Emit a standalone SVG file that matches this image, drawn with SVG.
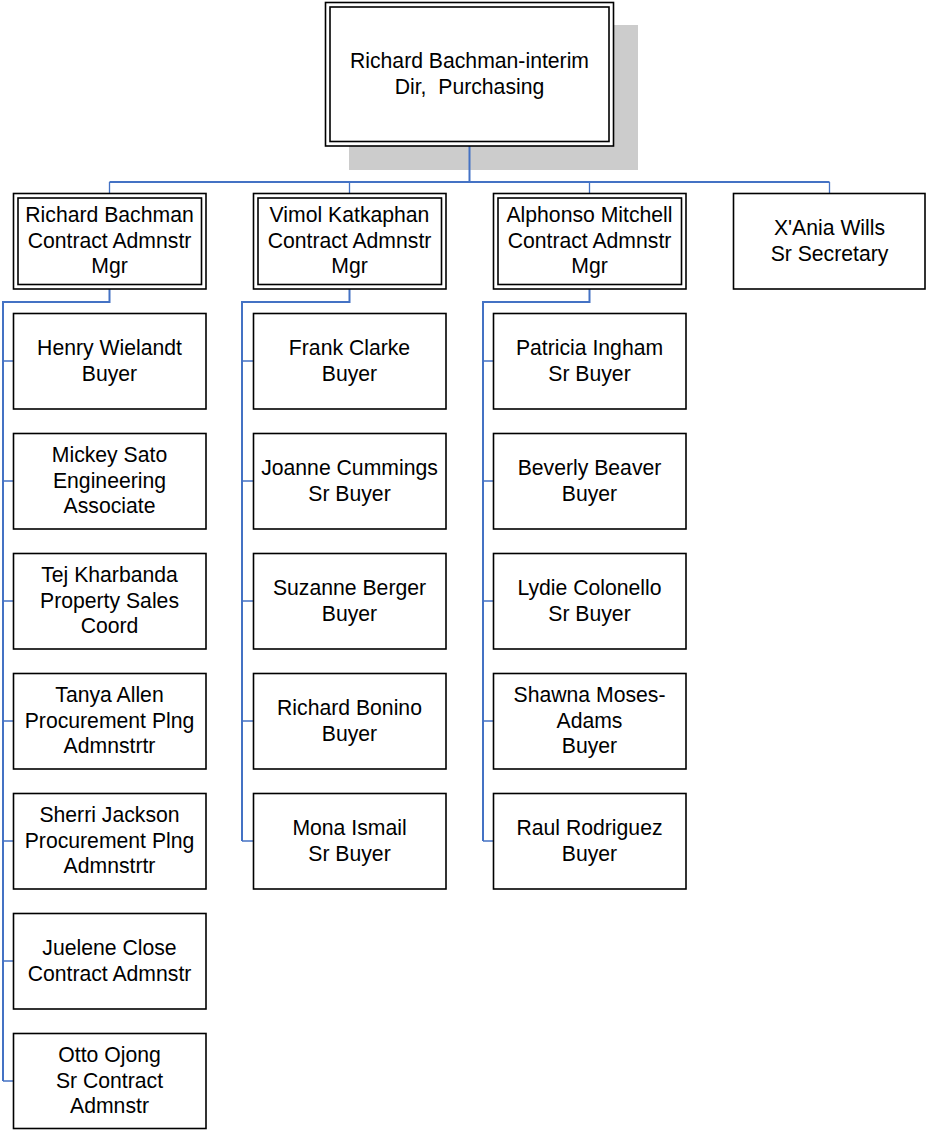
<svg xmlns="http://www.w3.org/2000/svg" width="926" height="1130" viewBox="0 0 926 1130">
<style>
.box{fill:#fff;stroke:#000;stroke-width:1.6}
.in{fill:none;stroke:#000;stroke-width:1.6}
.t{font-family:"Liberation Sans",Arial,sans-serif;font-size:21.2px;fill:#000;text-anchor:middle}
.c{fill:none;stroke:#4472C4;stroke-width:2}
.b{fill:none;stroke:#4472C4;stroke-width:1.3}
</style>
<rect x="349" y="25" width="289" height="145" fill="#CCCCCC"/>
<g id="connectors">
<path class="c" d="M469.5 146V182"/>
<path class="c" d="M109.5 182H829.5"/>
<path class="b" d="M109.5 182V193M349.5 182V193M589.5 182V193M829.5 182V193"/>
<path class="c" d="M109.5 289V302H3V1081M349.5 289V302H242V841M589.5 289V302H483V841"/>
<path class="b" d="M3 361H13M3 481H13M3 601H13M3 721H13M3 841H13M3 961H13M3 1081H13"/>
<path class="b" d="M242 361H253M242 481H253M242 601H253M242 721H253M242 841H253"/>
<path class="b" d="M483 361H493M483 481H493M483 601H493M483 721H493M483 841H493"/>
</g>
<g id="director">
<rect class="box" x="325.5" y="2.5" width="288" height="143.5"/>
<rect class="in" x="330" y="7" width="279" height="134.5"/>
<text class="t" x="469.5" y="68">Richard Bachman-interim</text>
<text class="t" x="469.5" y="94" xml:space="preserve">Dir,  Purchasing</text>
</g>
<g id="mgr1">
<rect class="box" x="13.5" y="193.5" width="192.5" height="95.5"/>
<rect class="in" x="18" y="198" width="183.5" height="86.5"/>
<text class="t" x="109.5" y="222">Richard Bachman</text>
<text class="t" x="109.5" y="248">Contract Admnstr</text>
<text class="t" x="109.5" y="273">Mgr</text>
</g>
<g id="mgr2">
<rect class="box" x="253.5" y="193.5" width="192.5" height="95.5"/>
<rect class="in" x="258" y="198" width="183.5" height="86.5"/>
<text class="t" x="349.5" y="222">Vimol Katkaphan</text>
<text class="t" x="349.5" y="248">Contract Admnstr</text>
<text class="t" x="349.5" y="273">Mgr</text>
</g>
<g id="mgr3">
<rect class="box" x="493.5" y="193.5" width="192.5" height="95.5"/>
<rect class="in" x="498" y="198" width="183.5" height="86.5"/>
<text class="t" x="589.5" y="222">Alphonso Mitchell</text>
<text class="t" x="589.5" y="248">Contract Admnstr</text>
<text class="t" x="589.5" y="273">Mgr</text>
</g>
<g id="secretary">
<rect class="box" x="733.5" y="193.5" width="191.5" height="95.5"/>
<text class="t" x="829.5" y="235">X'Ania Wills</text>
<text class="t" x="829.5" y="261">Sr Secretary</text>
</g>
<g id="henry"><rect class="box" x="13.5" y="313.5" width="192.5" height="95.5"/>
<text class="t" x="109.5" y="355">Henry Wielandt</text><text class="t" x="109.5" y="381">Buyer</text></g>
<g id="mickey"><rect class="box" x="13.5" y="433.5" width="192.5" height="95.5"/>
<text class="t" x="109.5" y="462">Mickey Sato</text><text class="t" x="109.5" y="488">Engineering</text><text class="t" x="109.5" y="513">Associate</text></g>
<g id="tej"><rect class="box" x="13.5" y="553.5" width="192.5" height="95.5"/>
<text class="t" x="109.5" y="582">Tej Kharbanda</text><text class="t" x="109.5" y="608">Property Sales</text><text class="t" x="109.5" y="633">Coord</text></g>
<g id="tanya"><rect class="box" x="13.5" y="673.5" width="192.5" height="95.5"/>
<text class="t" x="109.5" y="702">Tanya Allen</text><text class="t" x="109.5" y="728">Procurement Plng</text><text class="t" x="109.5" y="753">Admnstrtr</text></g>
<g id="sherri"><rect class="box" x="13.5" y="793.5" width="192.5" height="95.5"/>
<text class="t" x="109.5" y="822">Sherri Jackson</text><text class="t" x="109.5" y="848">Procurement Plng</text><text class="t" x="109.5" y="873">Admnstrtr</text></g>
<g id="juelene"><rect class="box" x="13.5" y="913.5" width="192.5" height="95.5"/>
<text class="t" x="109.5" y="955">Juelene Close</text><text class="t" x="109.5" y="981">Contract Admnstr</text></g>
<g id="otto"><rect class="box" x="13.5" y="1033.5" width="192.5" height="95"/>
<text class="t" x="109.5" y="1062">Otto Ojong</text><text class="t" x="109.5" y="1088">Sr Contract</text><text class="t" x="109.5" y="1113">Admnstr</text></g>
<g id="frank"><rect class="box" x="253.5" y="313.5" width="192.5" height="95.5"/>
<text class="t" x="349.5" y="355">Frank Clarke</text><text class="t" x="349.5" y="381">Buyer</text></g>
<g id="joanne"><rect class="box" x="253.5" y="433.5" width="192.5" height="95.5"/>
<text class="t" x="349.5" y="475">Joanne Cummings</text><text class="t" x="349.5" y="501">Sr Buyer</text></g>
<g id="suzanne"><rect class="box" x="253.5" y="553.5" width="192.5" height="95.5"/>
<text class="t" x="349.5" y="595">Suzanne Berger</text><text class="t" x="349.5" y="621">Buyer</text></g>
<g id="richardb"><rect class="box" x="253.5" y="673.5" width="192.5" height="95.5"/>
<text class="t" x="349.5" y="715">Richard Bonino</text><text class="t" x="349.5" y="741">Buyer</text></g>
<g id="mona"><rect class="box" x="253.5" y="793.5" width="192.5" height="95.5"/>
<text class="t" x="349.5" y="835">Mona Ismail</text><text class="t" x="349.5" y="861">Sr Buyer</text></g>
<g id="patricia"><rect class="box" x="493.5" y="313.5" width="192.5" height="95.5"/>
<text class="t" x="589.5" y="355">Patricia Ingham</text><text class="t" x="589.5" y="381">Sr Buyer</text></g>
<g id="beverly"><rect class="box" x="493.5" y="433.5" width="192.5" height="95.5"/>
<text class="t" x="589.5" y="475">Beverly Beaver</text><text class="t" x="589.5" y="501">Buyer</text></g>
<g id="lydie"><rect class="box" x="493.5" y="553.5" width="192.5" height="95.5"/>
<text class="t" x="589.5" y="595">Lydie Colonello</text><text class="t" x="589.5" y="621">Sr Buyer</text></g>
<g id="shawna"><rect class="box" x="493.5" y="673.5" width="192.5" height="95.5"/>
<text class="t" x="589.5" y="702">Shawna Moses-</text><text class="t" x="589.5" y="728">Adams</text><text class="t" x="589.5" y="753">Buyer</text></g>
<g id="raul"><rect class="box" x="493.5" y="793.5" width="192.5" height="95.5"/>
<text class="t" x="589.5" y="835">Raul Rodriguez</text><text class="t" x="589.5" y="861">Buyer</text></g>
</svg>
